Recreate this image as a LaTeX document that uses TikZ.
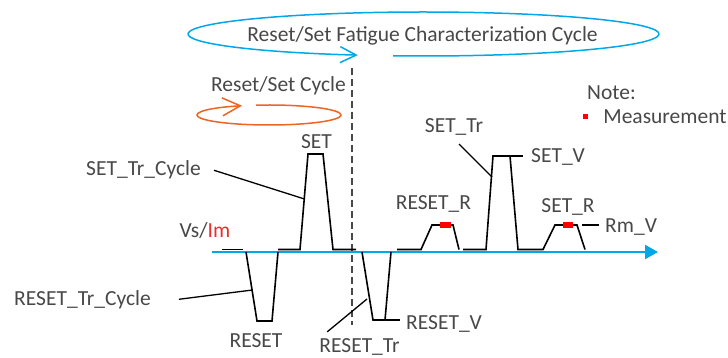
\documentclass[tikz,border=0pt]{standalone}
\usepackage{fontspec}
\setmainfont{Carlito}
\usetikzlibrary{positioning,arrows.meta}
\definecolor{cycblue}{RGB}{0,168,232}
\definecolor{cycorange}{RGB}{237,100,35}
\definecolor{txtgray}{RGB}{72,72,72}
\definecolor{measred}{RGB}{255,0,0}
\definecolor{imred}{RGB}{235,45,45}

\begin{document}
\begin{tikzpicture}[x=1pt,y=-1pt]
\tikzset{lbl/.style={font=\fontsize{21.5}{24}\selectfont,text=txtgray,inner sep=0pt,anchor=base},
  wave/.style={line width=1.6pt,line join=miter},
  lead/.style={line width=1.3pt},
  loop/.style={line width=1.5pt,-{Straight Barb[length=#1,width=#1]}},
  axis/.style={cycblue,line width=2.4pt,-{Triangle[length=13pt,width=14pt]}},
  sep/.style={txtgray,line width=1.2pt,dash pattern=on 7pt off 4pt},
  marker/.style={fill=measred,minimum size=5pt,inner sep=0pt}}
\useasboundingbox (0,0) rectangle (728,358);
\coordinate (bigC) at (423.5,34);
\coordinate (smallC) at (269,115);
\draw[loop=16pt,cycblue] (bigC) ++(97.4:235.5 and 22) arc[start angle=97.4,end angle=-253.8,x radius=235.5,y radius=22];
\draw[loop=18pt,cycorange] (smallC) ++(-100.4:72 and 10) arc[start angle=-100.4,end angle=248,x radius=72,y radius=10];
\node (title) [lbl] at (422.5,42) {Reset/Set Fatigue Characterization Cycle};
\node (rscyc) [lbl] at (278.5,92) {Reset/Set Cycle};
\node (note) [lbl,anchor=base west] at (587,100) {Note:};
\node (mk) [marker] at (585.5,117) {};
\node (meas) [lbl,right=15pt of mk] {Measurement};
\draw[sep] (352,68) -- (352,325);
\coordinate (ax0) at (212,252);
\coordinate (ax1) at (658,252);
\draw[axis] (ax0) -- (ax1);
\draw[wave] (222,249.5) -- (243,249.5);
\draw[wave] (246,252) -- (257,321) -- (272,321) -- (278,252);
\draw[wave] (278,249.5) -- (300,249.5) -- (308,154) -- (323,154) -- (333,249.5) -- (356,249.5);
\draw[wave] (362,252) -- (373,320) -- (385,320) -- (391,252);
\draw[wave] (397,249.5) -- (421,249.5) -- (432,225) -- (453,225) -- (459,249.5);
\draw[wave] (463,249.5) -- (486,249.5) -- (493,156) -- (510,156) -- (518,249.5) -- (543,249.5) -- (555,225) -- (577,225) -- (585,249.5);
\fill[measred] (440,222.5) rectangle (451,228);
\fill[measred] (563,222.5) rectangle (573,228);
\coordinate (pSetTrCyc) at (304.5,199);
\coordinate (pResetTrCyc) at (252.5,290);
\coordinate (pSetTr) at (492,177);
\coordinate (pResetTr) at (367,299);
\coordinate (pSetV) at (511,156);
\coordinate (pRmV) at (582,225);
\coordinate (pResetV) at (386,320);
\node (set) [lbl] at (316.5,149) {SET};
\node (settrcyc) [lbl] at (143.5,176) {SET\_Tr\_Cycle};
\node (vsim) [lbl] at (205,237) {Vs/\textcolor{imred}{Im}};
\node (resettrcyc) [lbl] at (82.5,305) {RESET\_Tr\_Cycle};
\node (reset) [lbl] at (256,347) {RESET};
\node (resettr) [lbl] at (359.5,352) {RESET\_Tr};
\node (resetv) [lbl,anchor=base west] at (406,329) {RESET\_V};
\node (resetr) [lbl] at (433.5,210) {RESET\_R};
\node (settr) [lbl] at (454,133) {SET\_Tr};
\node (setv) [lbl,anchor=base west] at (531,163) {SET\_V};
\node (setr) [lbl] at (568,212) {SET\_R};
\node (rmv) [lbl,anchor=base west] at (605,233) {Rm\_V};
\draw[lead] ([xshift=13pt]settrcyc.east) -- (pSetTrCyc);
\draw[lead] ([xshift=28pt]resettrcyc.east) -- (pResetTrCyc);
\draw[lead] ([shift={(5pt,-8pt)}]settr.south) -- (pSetTr);
\draw[lead] ([shift={(8pt,6pt)}]resettr.north west) -- (pResetTr);
\draw[lead,shorten >=8pt] (pSetV) -- (pSetV -| setv.west);
\draw[lead,shorten >=6pt] (pRmV) -- (pRmV -| rmv.west);
\draw[lead,shorten >=6pt] (pResetV) -- (pResetV -| resetv.west);
\end{tikzpicture}
\end{document}
